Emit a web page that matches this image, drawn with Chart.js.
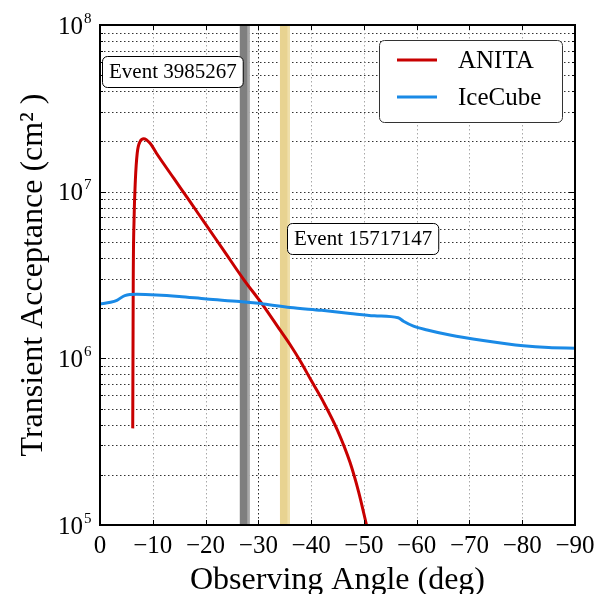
<!DOCTYPE html>
<html>
<head>
<meta charset="utf-8">
<script src="https://cdn.jsdelivr.net/npm/chart.js@4.4.1/dist/chart.umd.min.js"></script>
<style>
  body { margin: 0; background: #fff; }
</style>
</head>
<body>
<canvas id="grafico" width="606" height="594"></canvas>
<script>
// dados
const anitaAngle = [-6.2, -6.25, -6.3, -6.45, -6.7, -7.05, -7.6, -8.3, -9.5, -10.7, -14, -17, -20, -23.4, -27.2, -30.9, -34.1, -36, -38, -40, -42.3, -45, -47.4, -49, -50.5];
const anitaAcc = [3.8e5, 1.0e6, 3.0e6, 6.7e6, 1.17e7, 1.7e7, 2.0e7, 2.08e7, 1.95e7, 1.70e7, 1.2e7, 8.77e6, 6.38e6, 4.46e6, 2.98e6, 2.08e6, 1.48e6, 1.21e6, 9.57e5, 7.38e5, 5.5e5, 3.7e5, 2.36e5, 1.58e5, 1.0e5];

const iceAngle = [0, -2, -3.2, -4.7, -7, -10.7, -15, -20.2, -26.5, -31, -36, -42, -47.4, -52, -56.5, -57.5, -59.4, -62, -66.3, -72.6, -80.2, -85, -90];
const iceAcc = [2.12e6, 2.17e6, 2.23e6, 2.38e6, 2.42e6, 2.40e6, 2.35e6, 2.27e6, 2.19e6, 2.12e6, 2.02e6, 1.94e6, 1.86e6, 1.80e6, 1.75e6, 1.67e6, 1.56e6, 1.48e6, 1.38e6, 1.28e6, 1.19e6, 1.16e6, 1.15e6];

const xTicks = [0, -10, -20, -30, -40, -50, -60, -70, -80, -90];
const xTickLabels = ['0', '\u221210', '\u221220', '\u221230', '\u221240', '\u221250', '\u221260', '\u221270', '\u221280', '\u221290'];
const yDecades = [1e5, 1e6, 1e7, 1e8];
const yExponents = ['5', '6', '7', '8'];

// eventos: nome e faixa em graus (inicio, fim escuro, fim claro)
const eventNames = ['Event 3985267', 'Event 15717147'];
const eventBands = [[-26.5, -27.9, -28.4], [-34.1, -35.5, -36.0]];

const serif = "'Liberation Serif', 'Times New Roman', serif";

function xy(xs, ys) {
  return xs.map((v, i) => ({ x: v, y: ys[i] }));
}

// -------------------------------------------------------
// grade, faixas, moldura, legenda
const decor = {
  id: 'decor',
  beforeDatasetsDraw(chart) {
    const { ctx, chartArea: a, scales: { x, y } } = chart;
    ctx.save();
    ctx.beginPath();
    ctx.rect(a.left, a.top, a.right - a.left, a.bottom - a.top);
    ctx.clip();
    ctx.lineWidth = 1;
    ctx.setLineDash([1.5, 2.5]);
    // linhas horizontais
    ctx.strokeStyle = 'rgba(0,0,0,0.8)';
    yDecades.forEach(d => {
      for (let m = 1; m < 10; m++) {
        const v = d * m;
        if (v > 1e8) break;
        const py = Math.round(y.getPixelForValue(v)) + 0.5;
        ctx.beginPath();
        ctx.moveTo(a.left, py);
        ctx.lineTo(a.right, py);
        ctx.stroke();
      }
    });
    // linhas verticais
    xTicks.forEach(t => {
      const px = Math.round(x.getPixelForValue(t)) + 0.5;
      ctx.strokeStyle = t === -30 ? 'rgba(0,0,0,0.85)' : '#a8a8a8';
      ctx.beginPath();
      ctx.moveTo(px, a.top);
      ctx.lineTo(px, a.bottom);
      ctx.stroke();
    });
    ctx.setLineDash([]);
    // faixas dos eventos
    const cores = [['#a9a9a9', '#7f7f7f'], ['#efdfaa', '#e8d391']];
    eventBands.forEach((b, i) => {
      const x0 = x.getPixelForValue(b[0]);
      const x1 = x.getPixelForValue(b[1]);
      const x2 = x.getPixelForValue(b[2]);
      ctx.fillStyle = cores[i][0];
      ctx.fillRect(x0, a.top, x2 - x0, a.bottom - a.top);
      ctx.fillStyle = cores[i][1];
      ctx.fillRect(x0, a.top, x1 - x0, a.bottom - a.top);
    });
    ctx.restore();
  },
  afterDatasetsDraw(chart) {
    const { ctx, chartArea: a, scales: { x, y } } = chart;
    ctx.save();
    // ticks para dentro
    ctx.strokeStyle = '#000';
    ctx.lineWidth = 1;
    xTicks.forEach(t => {
      const px = Math.round(x.getPixelForValue(t)) + 0.5;
      ctx.beginPath();
      ctx.moveTo(px, a.bottom); ctx.lineTo(px, a.bottom - 5);
      ctx.moveTo(px, a.top); ctx.lineTo(px, a.top + 5);
      ctx.stroke();
    });
    yDecades.forEach(d => {
      for (let m = 1; m < 10; m++) {
        const v = d * m;
        if (v > 1e8) break;
        const len = m === 1 ? 6 : 3;
        const py = Math.round(y.getPixelForValue(v)) + 0.5;
        ctx.beginPath();
        ctx.moveTo(a.left, py); ctx.lineTo(a.left + len, py);
        ctx.moveTo(a.right, py); ctx.lineTo(a.right - len, py);
        ctx.stroke();
      }
    });
    // moldura
    ctx.lineWidth = 2;
    ctx.strokeRect(a.left, a.top, a.right - a.left, a.bottom - a.top);

    // rotulos do eixo y (10 com expoente)
    ctx.fillStyle = '#000';
    ctx.textBaseline = 'alphabetic';
    yDecades.forEach((d, i) => {
      const py = y.getPixelForValue(d);
      ctx.font = '25px ' + serif;
      ctx.textAlign = 'right';
      ctx.fillText('10', a.left - 17, py + 8.5);
      ctx.font = '15px ' + serif;
      ctx.textAlign = 'left';
      ctx.fillText(yExponents[i], a.left - 16, py - 2.5);
    });

    // caixas dos eventos
    ctx.font = '21px ' + serif;
    ctx.textAlign = 'left';
    ctx.textBaseline = 'middle';
    const pos = [[-0.35, 5.26e7], [-35.5, 5.24e6]];
    eventNames.forEach((nome, i) => {
      const bx = Math.round(x.getPixelForValue(pos[i][0])) + 0.5;
      const cy = y.getPixelForValue(pos[i][1]);
      const w = ctx.measureText(nome).width + 13;
      const h = 31;
      ctx.beginPath();
      ctx.roundRect(bx, Math.round(cy - h / 2) + 0.5, w, h, 5);
      ctx.fillStyle = '#fff';
      ctx.fill();
      ctx.lineWidth = 1;
      ctx.strokeStyle = '#000';
      ctx.stroke();
      ctx.fillStyle = '#000';
      ctx.fillText(nome, bx + 6.5, cy + 1);
    });

    // legenda
    const lx = a.right - 196, ly = a.top + 15, lw = 183, lh = 82;
    ctx.beginPath();
    ctx.roundRect(lx + 0.5, ly + 0.5, lw, lh, 5);
    ctx.fillStyle = '#fff';
    ctx.fill();
    ctx.strokeStyle = '#333';
    ctx.lineWidth = 1;
    ctx.stroke();
    ctx.font = '25px ' + serif;
    chart.data.datasets.forEach((ds, i) => {
      const yy = ly + 20 + i * 37;
      ctx.strokeStyle = ds.borderColor;
      ctx.lineWidth = 3;
      ctx.beginPath();
      ctx.moveTo(lx + 18, yy);
      ctx.lineTo(lx + 58, yy);
      ctx.stroke();
      ctx.fillStyle = '#000';
      ctx.fillText(ds.label, lx + 79, yy + 1);
    });
    ctx.restore();
  }
};

// -------------------------------------------------------
// grafico
const ctx = document.getElementById('grafico').getContext('2d');
const grafico = new Chart(ctx, {
  type: 'line',
  data: {
    datasets: [{
      label: 'ANITA',
      data: xy(anitaAngle, anitaAcc),
      borderColor: '#c80000',
      borderWidth: 3,
      pointRadius: 0,
      cubicInterpolationMode: 'monotone',
      order: 1
    }, {
      label: 'IceCube',
      data: xy(iceAngle, iceAcc),
      borderColor: '#1a8ae6',
      borderWidth: 3,
      pointRadius: 0,
      cubicInterpolationMode: 'monotone',
      order: 0
    }]
  },
  options: {
    responsive: false,
    devicePixelRatio: 1,
    animation: false,
    layout: { padding: { top: 25, right: 31, left: 0, bottom: 0 } },
    plugins: { legend: { display: false }, tooltip: { enabled: false } },
    scales: {
      x: {
        type: 'linear',
        min: -90,
        max: 0,
        reverse: true,
        grid: { display: false, drawTicks: false },
        border: { display: false },
        ticks: {
          stepSize: 10,
          padding: 6,
          color: '#000',
          font: { family: serif, size: 25 },
          maxRotation: 0,
          callback: v => {
            const i = xTicks.indexOf(v);
            return i >= 0 ? xTickLabels[i] : '';
          }
        },
        title: {
          display: true,
          text: 'Observing Angle (deg)',
          color: '#000',
          font: { family: serif, size: 32 },
          padding: { top: 0, bottom: -6 }
        },
        afterFit: s => { s.height = 69; }
      },
      y: {
        type: 'logarithmic',
        min: 1e5,
        max: 1e8,
        grid: { display: false, drawTicks: false },
        border: { display: false },
        ticks: { display: false },
        title: {
          display: true,
          text: 'Transient Acceptance (cm\u00b2 )',
          color: '#000',
          font: { family: serif, size: 32 },
          padding: { top: 14, bottom: 0 }
        },
        afterFit: s => { s.width = 100; }
      }
    }
  },
  plugins: [decor]
});
</script>
</body>
</html>
